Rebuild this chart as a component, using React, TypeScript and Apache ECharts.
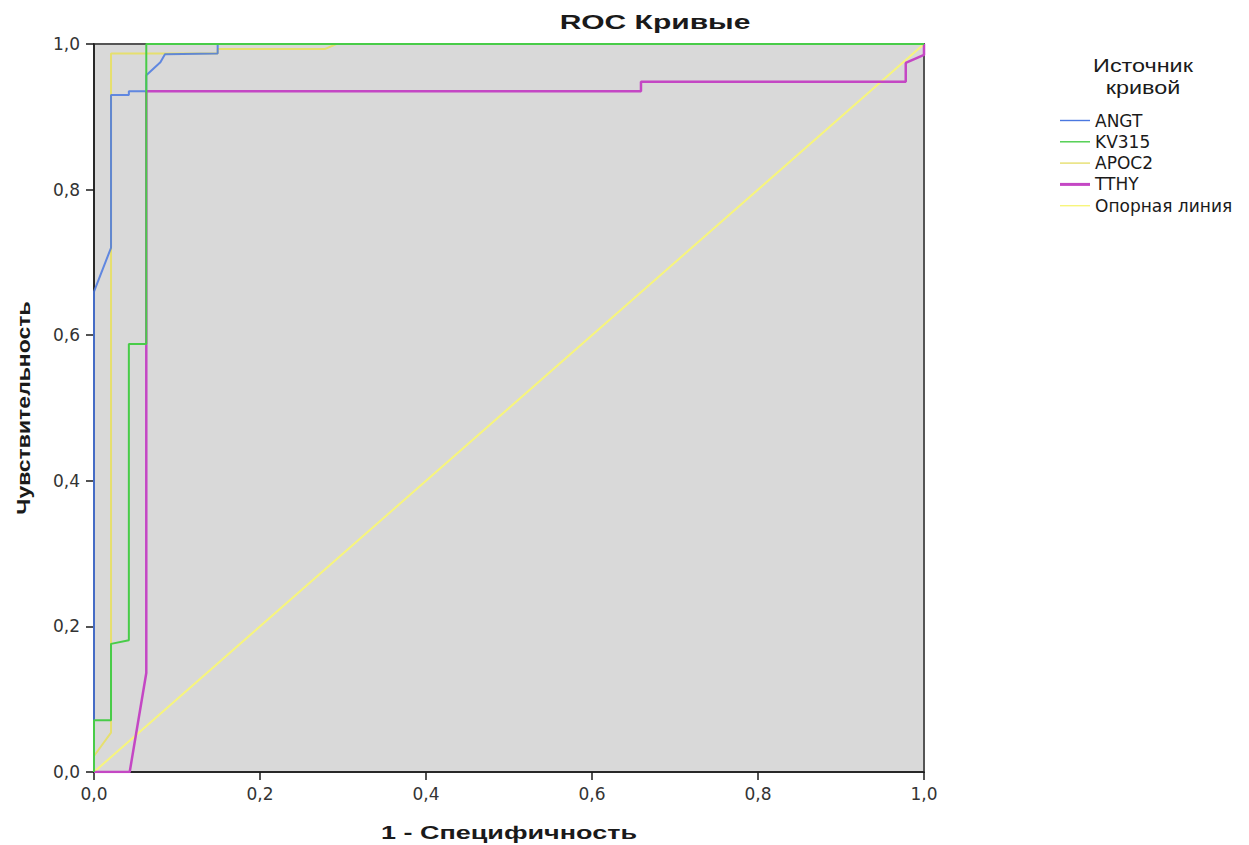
import React, { useEffect, useRef } from "react";
import * as echarts from "echarts";

const TICK_LABELS = ["0,0", "0,2", "0,4", "0,6", "0,8", "1,0"];
const LEGEND_NAMES = ["ANGT", "KV315", "APOC2", "TTHY", "Опорная линия"];

const ANGT: [number, number][] = [
  [0, 0], [0, 0.66], [0.0205, 0.72], [0.0205, 0.93], [0.042, 0.93], [0.042, 0.935],
  [0.063, 0.935], [0.063, 0.957], [0.08, 0.975], [0.0855, 0.986], [0.149, 0.987],
  [0.149, 1], [1, 1],
];
const KV315: [number, number][] = [
  [0, 0], [0, 0.071], [0.0205, 0.071], [0.0205, 0.176], [0.042, 0.181], [0.042, 0.588],
  [0.063, 0.588], [0.063, 1], [1, 1],
];
const APOC2: [number, number][] = [
  [0, 0], [0, 0.022], [0.0205, 0.054], [0.0205, 0.987], [0.149, 0.987], [0.149, 0.993],
  [0.278, 0.993], [0.292, 1], [1, 1],
];
const TTHY: [number, number][] = [
  [0, 0], [0.043, 0], [0.063, 0.136], [0.063, 0.935], [0.659, 0.935], [0.659, 0.948],
  [0.978, 0.948], [0.978, 0.974], [1, 0.985], [1, 1],
];
const REFERENCE: [number, number][] = [[0, 0], [1, 1]];

const FONT = "'Liberation Sans', Arial, sans-serif";
const WIDE = "'DejaVu Sans', sans-serif";

const C_ANGT = "#4a78e0";
const C_KV = "#48cc48";
const C_APOC = "#e6df6e";
const C_TTHY = "#c447c4";
const C_REF = "#f7f57c";

const thinIcon = "path://M0,0M30,14M0,6.3L30,6.3L30,7.7L0,7.7Z";
const thickIcon = "path://M0,0M30,14M0,5.5L30,5.5L30,8.5L0,8.5Z";

export default function App() {
  const ref = useRef<HTMLDivElement>(null);
  useEffect(() => {
    if (!ref.current) return;
    const chart = echarts.init(ref.current, undefined, { renderer: "svg" });
    const fmt = (v: number) => TICK_LABELS[Math.round(v / 0.2)] ?? String(v);
    const axisCommon = {
      type: "value" as const,
      min: 0,
      max: 1,
      interval: 0.2,
      axisLine: { show: true, onZero: false, lineStyle: { color: "#1a1a1a", width: 1.5 } },
      axisTick: { show: true, length: 8, lineStyle: { color: "#1a1a1a", width: 1.5 } },
      splitLine: { show: false },
    };
    chart.setOption({
      animation: false,
      backgroundColor: "#ffffff",
      grid: {
        left: 94,
        right: 325,
        top: 44,
        bottom: 73,
        show: true,
        backgroundColor: "#d9d9d9",
        borderColor: "#555555",
        borderWidth: 2,
      },
      xAxis: {
        ...axisCommon,
        axisLabel: { formatter: fmt, fontFamily: WIDE, fontSize: 17, color: "#333333", margin: 13 },
      },
      yAxis: {
        ...axisCommon,
        axisLabel: { formatter: fmt, fontFamily: WIDE, fontSize: 17, color: "#333333", margin: 14 },
      },
      legend: {
        orient: "vertical",
        left: 1060,
        top: 112,
        padding: 0,
        itemWidth: 30,
        itemHeight: 14,
        itemGap: 4.3,
        textStyle: { fontFamily: WIDE, fontSize: 17, color: "#1a1a1a" },
        data: LEGEND_NAMES.map((n) => ({ name: n, icon: n === "TTHY" ? thickIcon : thinIcon })),
      },
      graphic: [
        {
          type: "text",
          x: 655,
          y: 12,
          scaleX: 1.5,
          style: {
            text: "ROC Кривые",
            fontFamily: FONT,
            fontSize: 20,
            fontWeight: "bold",
            fill: "#1a1a1a",
            align: "center",
            verticalAlign: "top",
          },
        },
        {
          type: "text",
          x: 509,
          y: 832,
          scaleX: 1.42,
          style: {
            text: "1 - Специфичность",
            fontFamily: FONT,
            fontSize: 19,
            fontWeight: "bold",
            fill: "#1a1a1a",
            align: "center",
            verticalAlign: "middle",
          },
        },
        {
          type: "text",
          x: 23,
          y: 408,
          rotation: Math.PI / 2,
          scaleX: 1.21,
          style: {
            text: "Чувствительность",
            fontFamily: FONT,
            fontSize: 19,
            fontWeight: "bold",
            fill: "#1a1a1a",
            align: "center",
            verticalAlign: "middle",
          },
        },
        {
          type: "text",
          x: 1143,
          y: 55,
          scaleX: 1.3,
          style: {
            text: "Источник\nкривой",
            fontFamily: FONT,
            fontSize: 18,
            lineHeight: 22,
            fill: "#1a1a1a",
            align: "center",
            verticalAlign: "top",
          },
        },
      ],
      series: [
        { name: "Опорная линия", type: "line", data: REFERENCE, symbol: "none", lineStyle: { color: C_REF, width: 2 }, itemStyle: { color: C_REF }, z: 1 },
        { name: "TTHY", type: "line", data: TTHY, symbol: "none", lineStyle: { color: C_TTHY, width: 2.5 }, itemStyle: { color: C_TTHY }, z: 2 },
        { name: "APOC2", type: "line", data: APOC2, symbol: "none", lineStyle: { color: C_APOC, width: 2 }, itemStyle: { color: C_APOC }, z: 3 },
        { name: "ANGT", type: "line", data: ANGT, symbol: "none", lineStyle: { color: C_ANGT, width: 2, opacity: 0.85 }, itemStyle: { color: C_ANGT }, z: 4 },
        { name: "KV315", type: "line", data: KV315, symbol: "none", lineStyle: { color: C_KV, width: 2 }, itemStyle: { color: C_KV }, z: 5 },
      ],
    });
    return () => chart.dispose();
  }, []);
  return <div ref={ref} style={{ width: 1249, height: 845, position: "absolute", left: 0, top: 0 }} />;
}
